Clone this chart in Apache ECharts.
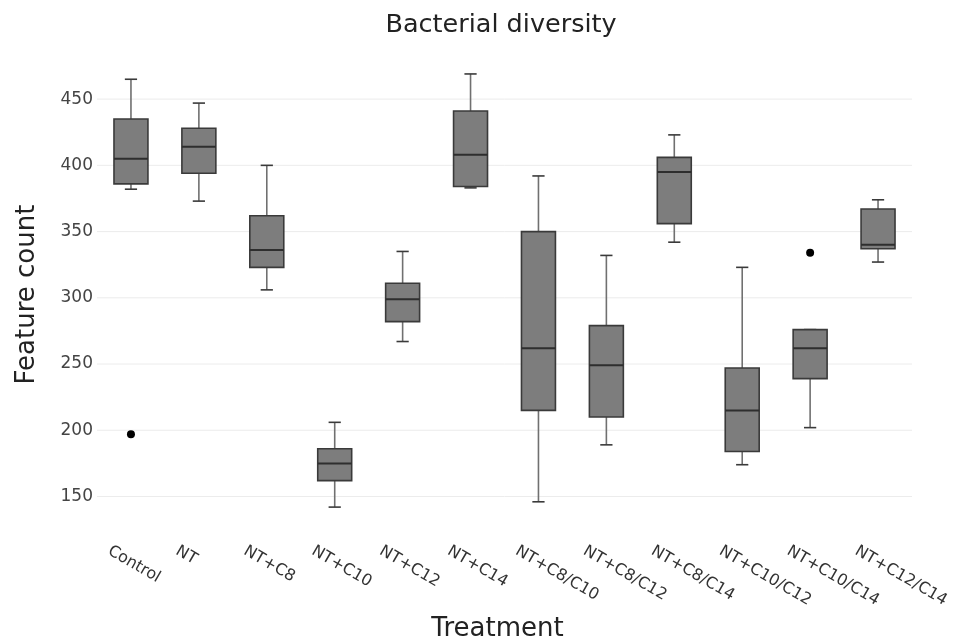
<!DOCTYPE html>
<html>
<head>
<meta charset="utf-8">
<script src="https://cdn.jsdelivr.net/npm/echarts@6/dist/echarts.min.js"></script>
<style>html,body{margin:0;padding:0;background:#fff;}#chart{width:974px;height:639px;}</style>
</head>
<body>
<div id="chart"></div>
<script>
const categories = ['Control','NT','NT+C8','NT+C10','NT+C12','NT+C14','NT+C8/C10','NT+C8/C12','NT+C8/C14','NT+C10/C12','NT+C10/C14','NT+C12/C14'];
const lowerWhisker = [382, 373, 306, 142, 267, 383, 146, 189, 342, 174, 202, 327];
const q1 = [386, 394, 323, 162, 282, 384, 215, 210, 356, 184, 239, 337];
const median = [405, 414, 336, 175, 299, 408, 262, 249, 395, 215, 262, 340];
const q3 = [435, 428, 362, 186, 311, 441, 350, 279, 406, 247, 276, 367];
const upperWhisker = [465, 447, 400, 206, 335, 469, 392, 332, 423, 323, 276, 374];
const outlierCategory = ['Control', 'NT+C10/C14'];
const outlierValue = [197, 334];
const yTicks = [150, 200, 250, 300, 350, 400, 450];

const FONT = 'DejaVu Sans';
const boxData = categories.map((c, i) => [i, lowerWhisker[i], q1[i], median[i], q3[i], upperWhisker[i]]);
const outlierData = outlierCategory.map((c, i) => [categories.indexOf(c), outlierValue[i]]);

const chart = echarts.init(document.getElementById('chart'));
chart.setOption({
  backgroundColor: '#fff',
  animation: false,
  title: {
    text: 'Bacterial diversity',
    left: 496, top: 7, textAlign: 'center',
    textStyle: { fontFamily: FONT, fontSize: 25.5, fontWeight: 'normal', color: '#222' }
  },
  grid: { left: 97, right: 62, top: 66, bottom: 116, outerBoundsMode: 'none', containLabel: false },
  xAxis: {
    type: 'category',
    data: categories,
    boundaryGap: true,
    axisLine: { show: false },
    axisTick: { show: false },
    splitLine: { show: false },
    axisLabel: { show: false },
    name: 'Treatment', nameLocation: 'middle', nameGap: 93,
    nameTextStyle: { fontFamily: FONT, fontSize: 26, color: '#222', padding: [0, 14, 0, 0] }
  },
  yAxis: {
    type: 'value',
    min: 130, max: 475,
    axisLine: { show: false },
    axisTick: { show: false },
    splitLine: { show: false },
    axisLabel: { show: false },
    name: 'Feature count', nameLocation: 'middle', nameGap: 57,
    nameTextStyle: { fontFamily: FONT, fontSize: 26, color: '#222' }
  },
  series: [
    {
      type: 'custom',
      name: 'yticks',
      silent: true,
      data: yTicks.map(v => [v]),
      renderItem: function (params, api) {
        const v = api.value(0);
        const p = api.coord([0, v]);
        const cs = params.coordSys;
        return {
          type: 'group',
          children: [
            { type: 'line', shape: { x1: cs.x, y1: p[1], x2: cs.x + cs.width, y2: p[1] }, style: { stroke: '#ececec', lineWidth: 1 } },
            { type: 'text', style: { x: cs.x - 4, y: p[1], text: String(v), align: 'right', verticalAlign: 'middle', font: '17px "DejaVu Sans"', fill: '#444' } }
          ]
        };
      },
      z: 1
    },
    {
      type: 'custom',
      name: 'xticks',
      silent: true,
      data: categories.map((c, i) => [i]),
      renderItem: function (params, api) {
        const idx = api.value(0);
        const cs = params.coordSys;
        const x = api.coord([idx, 130])[0];
        return {
          type: 'text',
          x: x - 18,
          y: cs.y + cs.height + 20,
          rotation: -Math.PI / 6,
          style: { x: 0, y: 0, text: categories[idx], align: 'left', verticalAlign: 'top', font: '16px "DejaVu Sans"', fill: '#333' }
        };
      },
      z: 1
    },
    {
      type: 'custom',
      name: 'boxes',
      data: boxData,
      renderItem: function (params, api) {
        const idx = api.value(0);
        const band = api.size([1, 0])[0];
        const x = api.coord([idx, 0])[0];
        const yMin = api.coord([idx, api.value(1)])[1];
        const yQ1 = api.coord([idx, api.value(2)])[1];
        const yMed = api.coord([idx, api.value(3)])[1];
        const yQ3 = api.coord([idx, api.value(4)])[1];
        const yMax = api.coord([idx, api.value(5)])[1];
        const hw = band * 0.25;
        const cw = band * 0.09;
        const whisk = { stroke: '#707070', lineWidth: 1.6 };
        const cap = { stroke: '#3a3a3a', lineWidth: 1.6 };
        return {
          type: 'group',
          children: [
            { type: 'line', shape: { x1: x, y1: yQ3, x2: x, y2: yMax }, style: whisk },
            { type: 'line', shape: { x1: x, y1: yQ1, x2: x, y2: yMin }, style: whisk },
            { type: 'line', shape: { x1: x - cw, y1: yMax, x2: x + cw, y2: yMax }, style: cap },
            { type: 'line', shape: { x1: x - cw, y1: yMin, x2: x + cw, y2: yMin }, style: cap },
            { type: 'rect', shape: { x: x - hw, y: yQ3, width: hw * 2, height: yQ1 - yQ3 }, style: { fill: '#7d7d7d', stroke: '#3a3a3a', lineWidth: 1.6 } },
            { type: 'line', shape: { x1: x - hw, y1: yMed, x2: x + hw, y2: yMed }, style: { stroke: '#2e2e2e', lineWidth: 2 } }
          ]
        };
      },
      z: 2
    },
    {
      type: 'scatter',
      name: 'outliers',
      data: outlierData,
      symbol: 'circle',
      symbolSize: 8,
      itemStyle: { color: '#000', opacity: 1 },
      z: 3
    }
  ]
});
</script>
</body>
</html>
